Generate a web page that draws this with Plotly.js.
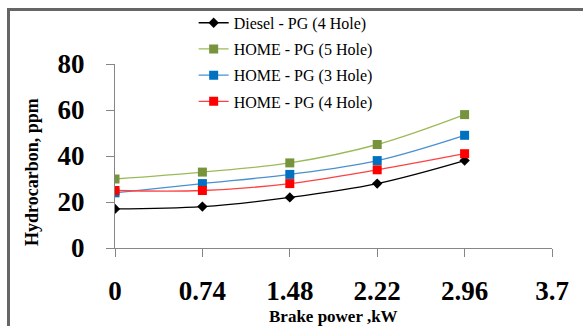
<!DOCTYPE html>
<html>
<head>
<meta charset="utf-8">
<script src="https://cdn.plot.ly/plotly-3.0.1.min.js"></script>
<style>
html,body{margin:0;padding:0;background:#fff;}
#wrap{position:relative;width:583px;height:326px;overflow:hidden;}
#chart{width:583px;height:326px;}
#frame{position:absolute;left:7px;top:8px;width:700px;height:500px;border:3px solid #666;pointer-events:none;}
</style>
</head>
<body>
<div id="wrap"><div id="chart"></div><div id="frame"></div></div>
<script>
var brakePower = [0, 0.74, 1.48, 2.22, 2.96];
var tickVals = [0, 0.74, 1.48, 2.22, 2.96, 3.7];
var tickText = ['0', '0.74', '1.48', '2.22', '2.96', '3.7'];
var seriesNames = ['Diesel - PG (4 Hole)', 'HOME - PG (5 Hole)', 'HOME - PG (3 Hole)', 'HOME - PG (4 Hole)'];
var dieselPG4 = [17, 18, 22, 28, 38];
var homePG5 = [30, 33, 37, 45, 58];
var homePG3 = [24, 28, 32, 38, 49];
var homePG4 = [25, 25, 28, 34, 41];

var serif = 'Liberation Serif';
function tr(y, name, lineColor, markerColor, symbol, msize, grp) {
  return {
    x: brakePower, y: y, name: name, type: 'scatter', mode: 'lines+markers',
    line: {color: lineColor, width: 1.3, shape: 'spline', smoothing: 1},
    marker: {color: markerColor, symbol: symbol, size: msize},
    legendgroup: grp
  };
}
var data = [
  tr(dieselPG4, seriesNames[0], '#000000', '#000000', 'diamond', 8, 'a'),
  tr(homePG5, seriesNames[1], '#9BBB59', '#77933C', 'square', 9, 'b'),
  tr(homePG3, seriesNames[2], '#4A90D0', '#0070C0', 'square', 9, 'c'),
  tr(homePG4, seriesNames[3], '#FF4040', '#FF0000', 'square', 9, 'd')
];
var layout = {
  width: 583, height: 326,
  margin: {l: 115, r: 31, t: 64, b: 78, autoexpand: false},
  paper_bgcolor: '#fff', plot_bgcolor: '#fff',
  showlegend: true,
  legend: {x: 0.18, y: 1.316, xanchor: 'left', yanchor: 'top', traceorder: 'grouped',
           tracegroupgap: 2.4, bgcolor: 'rgba(0,0,0,0)',
           font: {family: serif, size: 16, color: '#000'}},
  xaxis: {range: [0, 3.7], tickvals: tickVals, ticktext: tickText,
          showgrid: false, zeroline: false, showline: true, linecolor: '#868686', linewidth: 1,
          ticks: 'outside', ticklen: 8, tickcolor: '#868686', ticklabelstandoff: 11,
          tickfont: {family: serif, size: 27, weight: 'bold', color: '#000'}},
  yaxis: {range: [0, 80], tickvals: [0, 20, 40, 60, 80],
          showgrid: false, zeroline: false, showline: true, linecolor: '#868686', linewidth: 1,
          ticks: 'outside', ticklen: 8, tickcolor: '#868686', ticklabelstandoff: 16,
          tickfont: {family: serif, size: 27, weight: 'bold', color: '#000'}},
  annotations: [
    {xref: 'paper', yref: 'paper', x: -0.19, y: 0.413, text: 'Hydrocarbon, ppm', textangle: -90,
     showarrow: false, xanchor: 'center', yanchor: 'middle',
     font: {family: serif, size: 18, weight: 'bold', color: '#000'}},
    {xref: 'paper', yref: 'paper', x: 0.5, y: -0.37, text: 'Brake power ,kW',
     showarrow: false, xanchor: 'center', yanchor: 'middle',
     font: {family: serif, size: 17, weight: 'bold', color: '#000'}}
  ]
};
Plotly.newPlot('chart', data, layout, {displayModeBar: false, staticPlot: true});
</script>
</body>
</html>
